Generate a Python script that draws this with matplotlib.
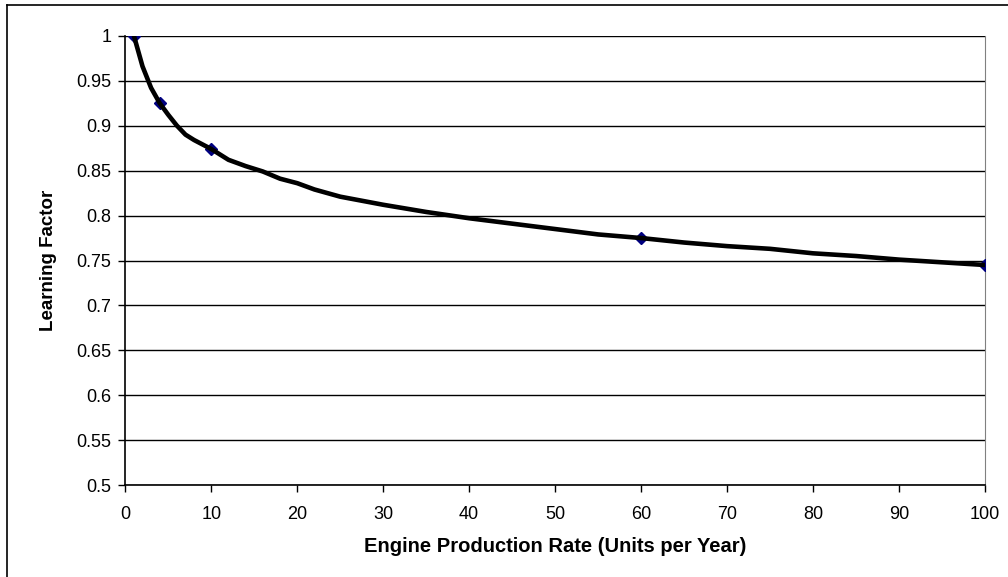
import matplotlib.pyplot as plt
import numpy as np

plt.rcParams["font.family"] = ["Liberation Sans", "DejaVu Sans"]

# curve
rate = [1, 2, 3, 4, 5, 6, 7, 8, 9, 10, 12, 14, 16, 18, 20, 22, 25, 30, 35,
        40, 45, 50, 55, 60, 65, 70, 75, 80, 85, 90, 95, 100]
factor = [1.0, 0.966, 0.942, 0.925, 0.912, 0.900, 0.890, 0.884, 0.879, 0.874,
          0.862, 0.855, 0.849, 0.841, 0.836, 0.829, 0.821, 0.812, 0.804,
          0.797, 0.791, 0.785, 0.779, 0.775, 0.770, 0.766, 0.763, 0.758,
          0.755, 0.751, 0.748, 0.745]

# marked points
pt_rate = [1, 4, 10, 60, 100]
pt_factor = [1.0, 0.925, 0.874, 0.775, 0.745]

fig = plt.figure(figsize=(10.08, 5.77), dpi=100)
ax = fig.add_axes([0.1243, 0.1589, 0.9772 - 0.1243, 0.9381 - 0.1589])

ax.plot(pt_rate, pt_factor, linestyle="none", marker="D", markersize=6,
        color="#000080", zorder=3)
ax.plot(rate, factor, color="black", linewidth=3.3, zorder=4,
        solid_capstyle="round")

ax.set_xlim(0, 100)
ax.set_ylim(0.5, 1.0)
ax.set_xticks(np.arange(0, 101, 10))
ax.set_yticks(np.arange(0.5, 1.001, 0.05))
ax.set_yticklabels(["0.5", "0.55", "0.6", "0.65", "0.7", "0.75", "0.8",
                    "0.85", "0.9", "0.95", "1"])
ax.grid(axis="y", color="black", linewidth=1.0)
ax.set_axisbelow(True)

ax.spines["top"].set_visible(False)
ax.spines["right"].set_color("#808080")
ax.spines["left"].set_linewidth(1.2)
ax.spines["bottom"].set_linewidth(1.2)
ax.tick_params(direction="out", length=5, width=1, labelsize=13)
ax.tick_params(axis="y", pad=5)
ax.tick_params(axis="x", pad=10)

ax.set_xlabel("Engine Production Rate (Units per Year)", fontsize=14.5,
              fontweight="bold", labelpad=10)
ax.set_ylabel("Learning Factor", fontsize=13.5, fontweight="bold", labelpad=14)

# chart border (left and top visible)
fig.add_artist(plt.Line2D([0.007, 0.007], [0, 0.991], color="black", lw=1.2,
                          transform=fig.transFigure))
fig.add_artist(plt.Line2D([0.007, 1.0], [0.991, 0.991], color="black", lw=1.2,
                          transform=fig.transFigure))

fig.savefig("out.png", dpi=100)
